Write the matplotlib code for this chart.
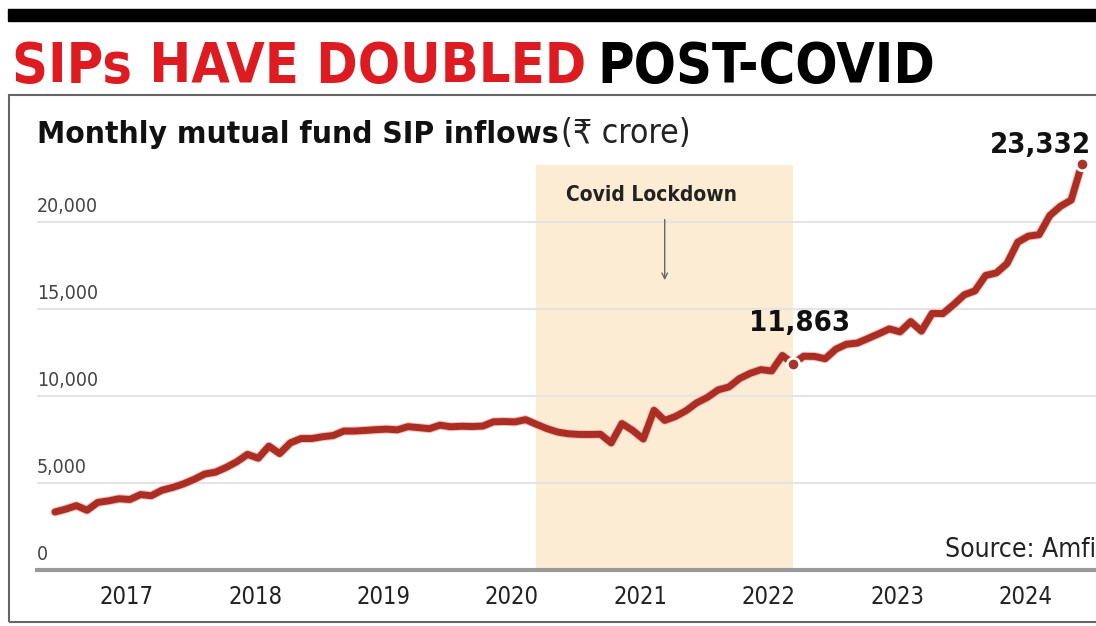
import numpy as np
import matplotlib
matplotlib.use('Agg')
import matplotlib.pyplot as plt
from matplotlib.patches import Rectangle
from matplotlib.transforms import ScaledTranslation
import matplotlib.patheffects as pe

plt.rcParams['font.family'] = ['DejaVu Sans', 'Noto Sans']
plt.rcParams['font.stretch'] = 'condensed'

# Entrées SIP mensuelles (₹ crore), de juillet 2016 à juillet 2024
start_year, start_month = 2016, 7
sip_2016 = [3334, 3497, 3698, 3434, 3884, 3973]
sip_2017 = [4095, 4050, 4335, 4269, 4584, 4744, 4947, 5206, 5516, 5621, 5893, 6222]
sip_2018 = [6644, 6425, 7119, 6690, 7304, 7554, 7554, 7658, 7727, 7985, 7985, 8022]
sip_2019 = [8064, 8095, 8055, 8238, 8183, 8122, 8324, 8231, 8263, 8246, 8273, 8518]
sip_2020 = [8532, 8513, 8641, 8376, 8123, 7927, 7831, 7792, 7788, 7800, 7302, 8418]
sip_2021 = [8023, 7528, 9182, 8596, 8819, 9156, 9609, 9923, 10351, 10519, 11005, 11305]
sip_2022 = [11517, 11438, 12328, 11863, 12286, 12276, 12140, 12693, 12976, 13041, 13306, 13573]
sip_2023 = [13856, 13686, 14276, 13728, 14749, 14734, 15245, 15814, 16042, 16928, 17073, 17610]
sip_2024 = [18838, 19187, 19271, 20371, 20904, 21262, 23332]

sip = np.array(sip_2016 + sip_2017 + sip_2018 + sip_2019 + sip_2020
               + sip_2021 + sip_2022 + sip_2023 + sip_2024)
t = start_year + (start_month - 1 + np.arange(len(sip))) / 12

years = [2017, 2018, 2019, 2020, 2021, 2022, 2023, 2024]
yticks = [0, 5000, 10000, 15000, 20000]
ytick_labels = ['0', '5,000', '10,000', '15,000', '20,000']
highlights = [11863, 23332]
lockdown = (2020.25, 2022.25)

RED = '#df1b22'
LINE = '#ab2e24'

W, H = 1096, 626
fig = plt.figure(figsize=(W / 100, H / 100), dpi=100)
fx = lambda px: px / W
fy = lambda py: 1 - py / H

# Barre noire en haut et cadre
fig.patches.append(Rectangle((fx(8), fy(21)), 1, 12 / H, transform=fig.transFigure,
                             color='black'))
fig.patches.append(Rectangle((fx(9), fy(622)), 1, (622 - 95) / H, transform=fig.transFigure,
                             fill=False, edgecolor='#666666', lw=1.5))

ax = fig.add_axes([fx(37), fy(570), 1 - fx(37), (570 - 135) / H])
ax.set_xlim(2016.36, 2024.61)
ax.set_ylim(0, 25000)

ax.axvspan(lockdown[0], lockdown[1], ymin=0, ymax=(570 - 165) / 435,
           color='#fcecd3', lw=0, zorder=0)

ax.plot(t, sip, color=LINE, lw=5, solid_joinstyle='round', solid_capstyle='round',
        zorder=3, path_effects=[pe.Stroke(linewidth=6.5, foreground='#f3c4bc'), pe.Normal()])

for v in highlights:
    i = int(np.where(sip == v)[0][0])
    ax.plot(t[i], v, 'o', ms=9, color='#a9342c', mec='white', mew=2, zorder=4)
ax.annotate(f'{highlights[0]:,}', xy=(t[np.where(sip == highlights[0])[0][0]], highlights[0]),
            xytext=(5, 29), textcoords='offset points', ha='center', va='center',
            fontsize=21, fontweight='bold', color='#111111')
ax.annotate(f'{highlights[1]:,}', xy=(t[-1], sip[-1]), xytext=(-30, 14),
            textcoords='offset points', ha='center', va='center',
            fontsize=21, fontweight='bold', color='#111111')

# Confinement Covid
mid = (lockdown[0] + lockdown[1]) / 2
ax.text(mid - 0.1, 21550, 'Covid Lockdown', ha='center', va='center',
        fontsize=15, fontweight='bold', color='#222222')
ax.annotate('', xy=(mid, 16500), xytext=(mid, 20300),
            arrowprops=dict(arrowstyle='->', color='#666666', lw=1))

# Axes
for s in ['top', 'left', 'right']:
    ax.spines[s].set_visible(False)
ax.spines['bottom'].set_color('#9a9a9a')
ax.spines['bottom'].set_linewidth(3)
ax.set_yticks(yticks)
ax.set_yticklabels(ytick_labels, ha='left', va='bottom')
ax.yaxis.grid(True, color='#e4e4e4', lw=1.5)
ax.set_axisbelow(True)
ax.tick_params(axis='y', length=0, pad=0, labelsize=14, labelcolor='#444444')
offset = ScaledTranslation(0, 4 / 72, fig.dpi_scale_trans)
for lab in ax.get_yticklabels():
    lab.set_transform(lab.get_transform() + offset)
ax.set_xticks([y + 0.06 for y in years])
ax.set_xticklabels([str(y) for y in years])
ax.tick_params(axis='x', length=0, pad=11, labelsize=17, labelcolor='#222222')

fig.text(fx(945), fy(550), 'Source: Amfi', ha='left', va='center', fontsize=19,
         color='#222222')

# Titres, ajustés à la largeur
r = fig.canvas.get_renderer()
t1 = fig.text(fx(12), fy(82), 'SIPs HAVE DOUBLED', color=RED, fontsize=40,
              fontweight='heavy', va='baseline')
t2 = fig.text(fx(590), fy(82), 'POST-COVID', color='black', fontsize=40,
              fontweight='heavy', va='baseline')
w1 = t1.get_window_extent(r).width
w2 = t2.get_window_extent(r).width
k = (923 - 12) / (w1 + w2)
t1.set_fontsize(40 * k)
t2.set_fontsize(40 * k)
t2.set_x(fx(12 + w1 * k + 12))

s1 = fig.text(fx(37), fy(143), 'Monthly mutual fund SIP inflows', fontsize=22,
              fontweight='bold', va='baseline', color='#111111')
w = s1.get_window_extent(r).width
s1.set_fontsize(22 * 518 / w)
s2 = fig.text(fx(37 + 518 + 6), fy(143), '(₹ crore)', fontsize=23.5 * 518 / w,
              va='baseline', color='#222222')

fig.savefig('out.png', dpi=100)
